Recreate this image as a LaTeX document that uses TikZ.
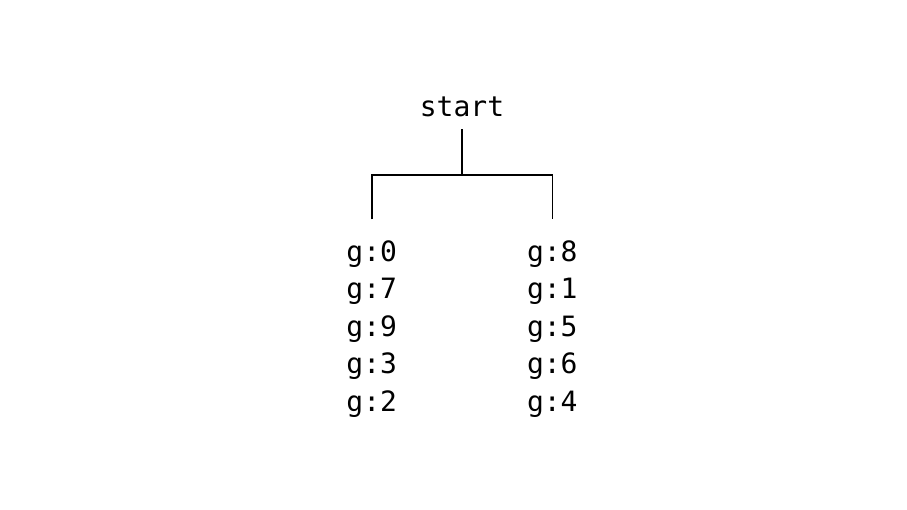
\documentclass[tikz,border=0pt]{standalone}
\usepackage{fontspec}
\newfontfamily\codefont{DejaVu Sans Mono}
\tikzset{
  codetxt/.style={font=\codefont\fontsize{21}{25}\selectfont, anchor=base, text height=15pt, text depth=0pt, inner xsep=0pt},
  rootlbl/.style={codetxt, inner ysep=9.5pt},
  leaflbl/.style={codetxt, inner ysep=16pt},
  branch/.style={line width=1.2pt}
}
\begin{document}
\begin{tikzpicture}[x=0.75pt,y=0.75pt,yscale=-1,xscale=1]
\useasboundingbox (0,0) rectangle (907,510);

% Text Node
\node [rootlbl] (start) at (462,116.5) {start};
% Left column
\node [leaflbl] (l0) at (371.7,261) {g:0};
\node [leaflbl] (l1) at (371.7,298.6) {g:7};
\node [leaflbl] (l2) at (371.7,336.2) {g:9};
\node [leaflbl] (l3) at (371.7,373.8) {g:3};
\node [leaflbl] (l4) at (371.7,411.4) {g:2};
% Right column
\node [leaflbl] (r0) at (552.3,261) {g:8};
\node [leaflbl] (r1) at (552.3,298.6) {g:1};
\node [leaflbl] (r2) at (552.3,336.2) {g:5};
\node [leaflbl] (r3) at (552.3,373.8) {g:6};
\node [leaflbl] (r4) at (552.3,411.4) {g:4};

%Straight Lines
\coordinate (fork) at (462,175);
\draw [branch] (start.south) -- (fork);
\draw [branch] (l0.north) |- (fork) -| (r0.north);

\end{tikzpicture}
\end{document}
